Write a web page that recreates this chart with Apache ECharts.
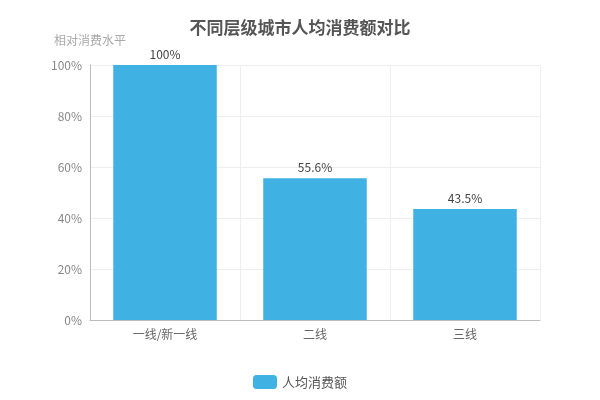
<!DOCTYPE html>
<html><head><meta charset="utf-8">
<script src="https://cdn.jsdelivr.net/npm/echarts@6/dist/echarts.min.js"></script>
<style>body{margin:0}#chart{width:600px;height:400px}</style>
</head><body><div id="chart"></div>
<script>
const categories = ["一线/新一线", "二线", "三线"];
const values = [100, 55.6, 43.5];
const yTicks = [0, 20, 40, 60, 80, 100];

const chart = echarts.init(document.getElementById("chart"));
chart.setOption({
  textStyle: { fontFamily: "Noto Sans CJK SC" },
  title: {
    text: "不同层级城市人均消费额对比",
    left: "center",
    top: 14,
    textStyle: { fontSize: 17, fontWeight: "bold", color: "#555" }
  },
  legend: {
    bottom: 6,
    itemWidth: 24,
    itemHeight: 14,
    textStyle: { color: "#555", fontSize: 13 },
    data: ["人均消费额"]
  },
  grid: { left: 90, right: 60, top: 65, bottom: 80 },
  xAxis: {
    type: "category",
    data: categories,
    axisLine: { lineStyle: { color: "#bbb" } },
    axisTick: { show: false },
    axisLabel: { color: "#666", fontSize: 12 },
    splitLine: { show: true, lineStyle: { color: "#eee" } }
  },
  yAxis: {
    type: "value",
    name: "相对消费水平",
    nameTextStyle: { color: "#aaa", fontSize: 12, align: "center", padding: [0, 0, 4, 0] },
    min: yTicks[0],
    max: yTicks[yTicks.length - 1],
    interval: 20,
    axisLine: { show: true, lineStyle: { color: "#bbb" } },
    axisLabel: { color: "#888", fontSize: 12, formatter: "{value}%" },
    splitLine: { lineStyle: { color: "#eee" } }
  },
  series: [{
    name: "人均消费额",
    type: "bar",
    data: values,
    barWidth: "69%",
    itemStyle: { color: "#3fb1e3" },
    label: { show: true, position: "top", color: "#444", fontSize: 12, formatter: "{c}%" }
  }]
});
</script></body></html>
